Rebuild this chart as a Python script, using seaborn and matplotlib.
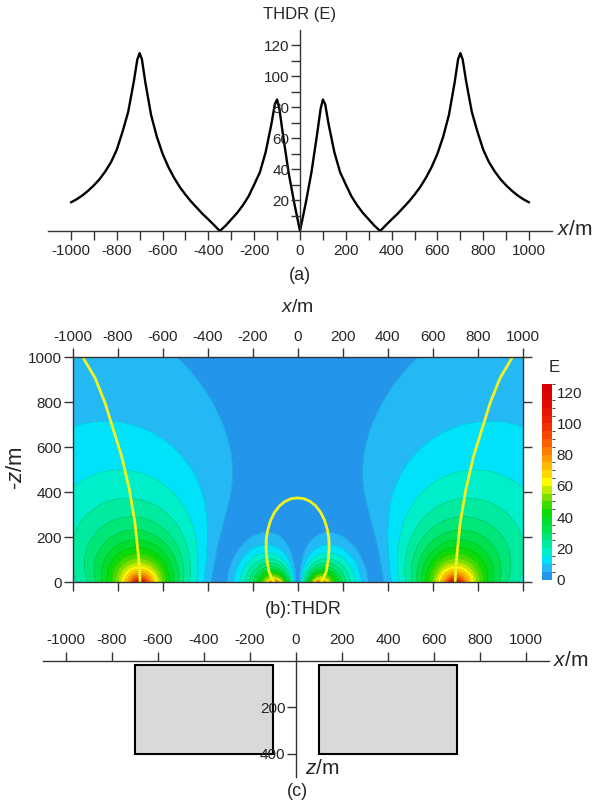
import numpy as np
import matplotlib
matplotlib.use("Agg")
import matplotlib.pyplot as plt
import seaborn as sns
from matplotlib.colors import ListedColormap, BoundaryNorm
from matplotlib.ticker import FixedLocator

# ---------------- data ----------------
# (a) THDR profile at the surface
profile_x = [-1000, -975, -950, -925, -900, -875, -850, -825, -800, -775, -750, -725, -710, -700,
             -690, -675, -650, -625, -600, -575, -550, -525, -500, -475, -450, -425, -400, -375,
             -350, -325, -300, -275, -250, -225, -200, -175, -150, -125, -110, -100, -90, -75,
             -50, -25, 0,
             25, 50, 75, 90, 100, 110, 125, 150, 175, 200, 225, 250, 275, 300, 325, 350, 375,
             400, 425, 450, 475, 500, 525, 550, 575, 600, 625, 650, 675, 690, 700, 710, 725,
             750, 775, 800, 825, 850, 875, 900, 925, 950, 975, 1000]
profile_thdr = [18.5, 20.5, 23, 26, 29.5, 33.5, 38.5, 44.5, 52.5, 64, 77, 97, 111, 115,
                111, 96, 75, 61, 50, 41.5, 34.5, 28.5, 23.5, 19, 15, 11, 7.5, 3.8,
                0, 3.4, 7.5, 11.6, 16.5, 22.3, 30, 38, 51, 69, 82, 85, 79, 63,
                38, 18, 0,
                18, 38, 63, 79, 85, 82, 69, 51, 38, 30, 22.3, 16.5, 11.6, 7.5, 3.4, 0, 3.8,
                7.5, 11, 15, 19, 23.5, 28.5, 34.5, 41.5, 50, 61, 75, 96, 111, 115, 111, 97,
                77, 64, 52.5, 44.5, 38.5, 33.5, 29.5, 26, 23, 20.5, 18.5]

# (c) model prisms
prism_left = [-700, 100]
prism_right = [-100, 700]
prism_top = [20, 20]
prism_bottom = [400, 400]
density_contrast = 300.0  # kg/m^3

# (b) yellow traces
outer_x = [700, 702, 707, 722, 747, 781, 818, 855, 899, 954]
outer_h = [0, 50, 114, 262, 410, 558, 677, 796, 907, 1000]
loop_x = [104, 118, 128, 136, 140, 139, 132, 120, 103, 80, 55, 28, 0]
loop_h = [0, 25, 50, 100, 150, 195, 235, 275, 310, 340, 360, 372, 375]

levels = list(range(0, 130, 5))
band_colors = ["#2396EB", "#24B9F5", "#00E1FA", "#00EFCB", "#00EBA0", "#00E678", "#00E150",
               "#00DD2D", "#0ADC0A", "#3CDC00", "#78E100", "#BEEB00", "#FFFA00", "#FFD700",
               "#FFB900", "#FF9B00", "#FF7D00", "#FA5F00", "#F54600", "#F03200", "#EB2300",
               "#E61600", "#E10C00", "#DC0500", "#D70000"]
cbar_ticks = [0, 20, 40, 60, 80, 100, 120]
x_major = [-1000, -800, -600, -400, -200, 0, 200, 400, 600, 800, 1000]
x_minor_a = [-900, -700, -500, -300, -100, 100, 300, 500, 700, 900]
y_major_a = [20, 40, 60, 80, 100, 120]
y_minor_a = [10, 30, 50, 70, 90, 110]
y_ticks_b = [0, 200, 400, 600, 800, 1000]
y_ticks_c = [200, 400]

# ---------------- style ----------------
sns.set_style("white")
plt.rcParams["font.family"] = ["Liberation Sans", "DejaVu Sans"]
plt.rcParams["mathtext.fontset"] = "custom"
plt.rcParams["mathtext.it"] = "Liberation Sans:italic"
plt.rcParams["mathtext.rm"] = "Liberation Sans"
plt.rcParams["axes.axisbelow"] = False

W, H = 605, 805
fig = plt.figure(figsize=(W / 100, H / 100), dpi=100)
fig.patch.set_facecolor("white")


def rect(l, t, r, b):
    return [l / W, 1 - b / H, (r - l) / W, (b - t) / H]


def ftext(x, y, s, **kw):
    fig.text(x / W, 1 - y / H, s, **kw)


axis_col = "#333333"
TL = 6.5
FS = 11

# ---------------- panel (a) ----------------
ax1 = fig.add_axes(rect(48, 30, 552, 231))
sns.lineplot(x=profile_x, y=profile_thdr, ax=ax1, color="black", linewidth=1.7,
             sort=False, estimator=None)
ax1.set_xlim(-1100, 1100)
ax1.set_ylim(0, 130)
ax1.spines["left"].set_position(("data", 0))
ax1.spines["top"].set_visible(False)
ax1.spines["right"].set_visible(False)
for s in ("left", "bottom"):
    ax1.spines[s].set_color(axis_col)
    ax1.spines[s].set_linewidth(1.0)
ax1.xaxis.set_major_locator(FixedLocator(x_major))
ax1.xaxis.set_minor_locator(FixedLocator(x_minor_a))
ax1.yaxis.set_major_locator(FixedLocator(y_major_a))
ax1.yaxis.set_minor_locator(FixedLocator(y_minor_a))
ax1.set_xticklabels([str(v) for v in x_major])
ax1.set_yticklabels([str(v) for v in y_major_a])
ax1.tick_params(axis="x", which="both", direction="out", length=TL, width=1, color=axis_col,
                labelsize=FS, pad=3, bottom=True)
ax1.tick_params(axis="y", which="both", direction="out", length=TL, width=1, color=axis_col,
                labelsize=FS, pad=1, left=True)
ax1.set_xlabel("")
ax1.set_ylabel("")
ax1.patch.set_alpha(0)

ftext(300, 15, "THDR (E)", ha="center", va="center", fontsize=12)
ftext(557, 229, "$x$/m", ha="left", va="center", fontsize=15)
ftext(300, 275, "(a)", ha="center", va="center", fontsize=13)

# ---------------- panel (b) ----------------
G = 6.674e-11
xg = np.linspace(-1000, 1000, 401)
hg = np.linspace(0, 1000, 201)
XX, HH = np.meshgrid(xg, hg)
dgdx = np.zeros_like(XX)
for x1, x2, z1, z2 in zip(prism_left, prism_right, prism_top, prism_bottom):
    d1 = z1 + HH
    d2 = z2 + HH
    u1 = x1 - XX
    u2 = x2 - XX
    dgdx += 0.5 * (np.log((u1 ** 2 + d2 ** 2) / (u1 ** 2 + d1 ** 2))
                   - np.log((u2 ** 2 + d2 ** 2) / (u2 ** 2 + d1 ** 2)))
thdr = np.abs(2 * G * density_contrast * dgdx) * 1e9

cmap = ListedColormap(band_colors)
norm = BoundaryNorm(levels, cmap.N)

ax2 = fig.add_axes(rect(72.5, 357.3, 522.7, 582.3))
cf = ax2.contourf(XX, HH, thdr, levels=levels, cmap=cmap, norm=norm)
ax2.contour(XX, HH, thdr, levels=levels[1:-1], colors="k", linewidths=0.35, alpha=0.18)
ax2.plot(outer_x, outer_h, color="#F2F21E", lw=2.0, solid_capstyle="butt")
ax2.plot([-v for v in outer_x], outer_h, color="#F2F21E", lw=2.0, solid_capstyle="butt")
ax2.plot([-v for v in loop_x] + loop_x[::-1], loop_h + loop_h[::-1], color="#F2F21E", lw=2.0)
ax2.set_xlim(-1000, 1000)
ax2.set_ylim(0, 1000)
ax2.xaxis.set_major_locator(FixedLocator(x_major))
ax2.yaxis.set_major_locator(FixedLocator(y_ticks_b))
ax2.set_xticklabels([str(v) for v in x_major])
ax2.set_yticklabels([str(v) for v in y_ticks_b])
ax2.tick_params(axis="x", direction="out", length=TL, width=1, color=axis_col, labelsize=FS,
                top=True, bottom=True, labeltop=True, labelbottom=False, pad=3)
ax2.tick_params(axis="y", direction="out", length=TL, width=1, color=axis_col, labelsize=FS,
                left=True, right=True, labelleft=True, labelright=False, pad=1)
for s in ax2.spines.values():
    s.set_color(axis_col)
    s.set_linewidth(1.0)
    s.set_visible(True)

cax = fig.add_axes(rect(541.7, 384.3, 552.3, 579.5))
cb = fig.colorbar(cf, cax=cax, boundaries=levels, ticks=cbar_ticks)
cb.outline.set_visible(False)
cb.ax.tick_params(length=0, labelsize=FS, pad=3)
cb.ax.set_yticklabels([str(v) for v in cbar_ticks])

ftext(297, 307, "$x$/m", ha="center", va="center", fontsize=14)
ftext(17, 468, "-$z$/m", ha="center", va="center", fontsize=16, rotation=90)
ftext(554, 367, "E", ha="center", va="center", fontsize=12)
ftext(303, 609, "(b):THDR", ha="center", va="center", fontsize=13)

# ---------------- panel (c) ----------------
ax3 = fig.add_axes(rect(43, 660.5, 549, 777))
heights = [b - t for t, b in zip(prism_top, prism_bottom)]
widths = [r - l for l, r in zip(prism_left, prism_right)]
ax3.bar(prism_left, heights, width=widths, bottom=prism_top, align="edge",
        color="#d9d9d9", edgecolor="black", linewidth=1.5, zorder=1)
ax3.set_axisbelow(False)
ax3.set_xlim(-1100, 1100)
ax3.set_ylim(500, 0)
ax3.spines["left"].set_position(("data", 0))
ax3.spines["bottom"].set_visible(False)
ax3.spines["right"].set_visible(False)
for s in ("left", "top"):
    ax3.spines[s].set_color(axis_col)
    ax3.spines[s].set_linewidth(1.0)
    ax3.spines[s].set_zorder(3)
ax3.xaxis.tick_top()
ax3.xaxis.set_major_locator(FixedLocator(x_major))
ax3.yaxis.set_major_locator(FixedLocator(y_ticks_c))
ax3.set_xticklabels([str(v) for v in x_major])
ax3.set_yticklabels([str(v) for v in y_ticks_c])
ax3.tick_params(axis="x", direction="out", length=TL, width=1, color=axis_col, labelsize=FS,
                top=True, bottom=False, labeltop=True, labelbottom=False, pad=3)
ax3.tick_params(axis="y", direction="out", length=TL, width=1, color=axis_col, labelsize=FS,
                left=True, right=False, pad=1)
ax3.patch.set_alpha(0)

ftext(553, 660, "$x$/m", ha="left", va="center", fontsize=15)
ftext(322, 768, "$z$/m", ha="center", va="center", fontsize=15)
ftext(297, 791, "(c)", ha="center", va="center", fontsize=13)

fig.savefig("out.png", dpi=100, facecolor="white")
